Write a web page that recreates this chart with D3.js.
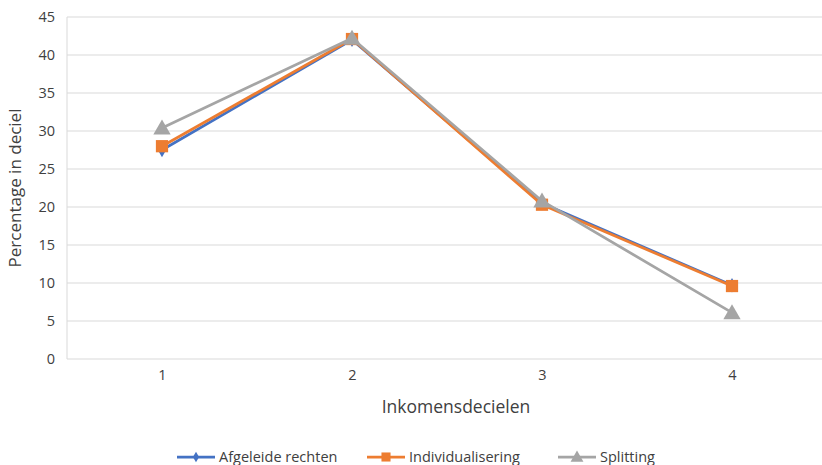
<!DOCTYPE html>
<html>
<head>
<meta charset="utf-8">
<script src="https://cdn.jsdelivr.net/npm/d3@7"></script>
<style>
html,body{margin:0;padding:0;background:#fff;}
svg{display:block;font-family:"Open Sans",sans-serif;}
</style>
</head>
<body>
<svg id="chart" width="822" height="465"></svg>
<script>
const categories = ["1", "2", "3", "4"];
const afgeleide = [27.5, 42.0, 20.5, 9.7];
const individualisering = [28.0, 42.1, 20.3, 9.6];
const splitting = [30.4, 42.2, 20.8, 6.1];
const seriesNames = ["Afgeleide rechten", "Individualisering", "Splitting"];
const yTicks = [0, 5, 10, 15, 20, 25, 30, 35, 40, 45];

const colors = ["#4472C4", "#ED7D31", "#A5A5A5"];
const symbols = [d3.symbolDiamond, d3.symbolSquare, d3.symbolTriangle];
const symSizes = [60, 150, 130];
const seriesData = [afgeleide, individualisering, splitting];

const svg = d3.select("#chart");
const m = {left: 67, right: -5, top: 17, bottom: 106};
const W = 822, H = 465;
const x = d3.scalePoint().domain(categories).range([m.left, W - m.right]).padding(0.5);
const y = d3.scaleLinear().domain([0, 45]).range([H - m.bottom, m.top]);
const FONT = "'Open Sans', sans-serif";

// gridlines
svg.append("g").selectAll("line").data(yTicks).join("line")
  .attr("x1", m.left).attr("x2", W)
  .attr("y1", d => y(d)).attr("y2", d => y(d))
  .attr("stroke", "#d9d9d9").attr("stroke-width", 1);
// left axis line
svg.append("line").attr("x1", m.left).attr("x2", m.left)
  .attr("y1", y(45)).attr("y2", y(0)).attr("stroke", "#d9d9d9");

// y tick labels
const yAxis = d3.axisLeft(y).tickValues(yTicks).tickSize(0).tickPadding(12);
const gy = svg.append("g").attr("transform", `translate(${m.left},0)`).call(yAxis);
gy.select(".domain").remove();
gy.selectAll("text").attr("font-size", 14.5).attr("fill", "#404040").style("font-family", FONT);

// x tick labels
const xAxis = d3.axisBottom(x).tickSize(0).tickPadding(11);
const gx = svg.append("g").attr("transform", `translate(0,${y(0)})`).call(xAxis);
gx.select(".domain").remove();
gx.selectAll("text").attr("font-size", 14.5).attr("fill", "#404040").style("font-family", FONT);

// axis titles
svg.append("text").attr("x", (x("2") + x("3")) / 2 + 9).attr("y", 413)
  .attr("text-anchor", "middle").attr("font-size", 17.5).attr("fill", "#404040")
  .text("Inkomensdecielen");
svg.append("text").attr("transform", `translate(21,${(y(0) + y(45)) / 2}) rotate(-90)`)
  .attr("text-anchor", "middle").attr("font-size", 17).attr("fill", "#404040")
  .text("Percentage in deciel");

// lines and markers
const line = d3.line().x((d, i) => x(categories[i])).y(d => y(d));
seriesData.forEach((vals, s) => {
  svg.append("path").datum(vals).attr("d", line)
    .attr("fill", "none").attr("stroke", colors[s]).attr("stroke-width", 2.75)
    .attr("stroke-linejoin", "round");
  svg.append("g").selectAll("path").data(vals).join("path")
    .attr("d", d3.symbol().type(symbols[s]).size(symSizes[s]))
    .attr("transform", (d, i) => `translate(${x(categories[i])},${y(d) + (s === 2 ? 1.5 : 0)})`)
    .attr("fill", colors[s]);
});

// legend
const legendX = [177, 367, 558];
const ly = 457;
seriesNames.forEach((name, s) => {
  const g = svg.append("g").attr("transform", `translate(${legendX[s]},${ly})`);
  g.append("line").attr("x1", 0).attr("x2", 38).attr("y1", 0).attr("y2", 0)
    .attr("stroke", colors[s]).attr("stroke-width", 2.75);
  g.append("path").attr("d", d3.symbol().type(symbols[s]).size(symSizes[s] * 0.55))
    .attr("transform", `translate(19,${s === 2 ? 1 : 0})`).attr("fill", colors[s]);
  g.append("text").attr("x", 42).attr("y", 5).attr("font-size", 14.5).attr("fill", "#404040")
    .text(name);
});
</script>
</body>
</html>
